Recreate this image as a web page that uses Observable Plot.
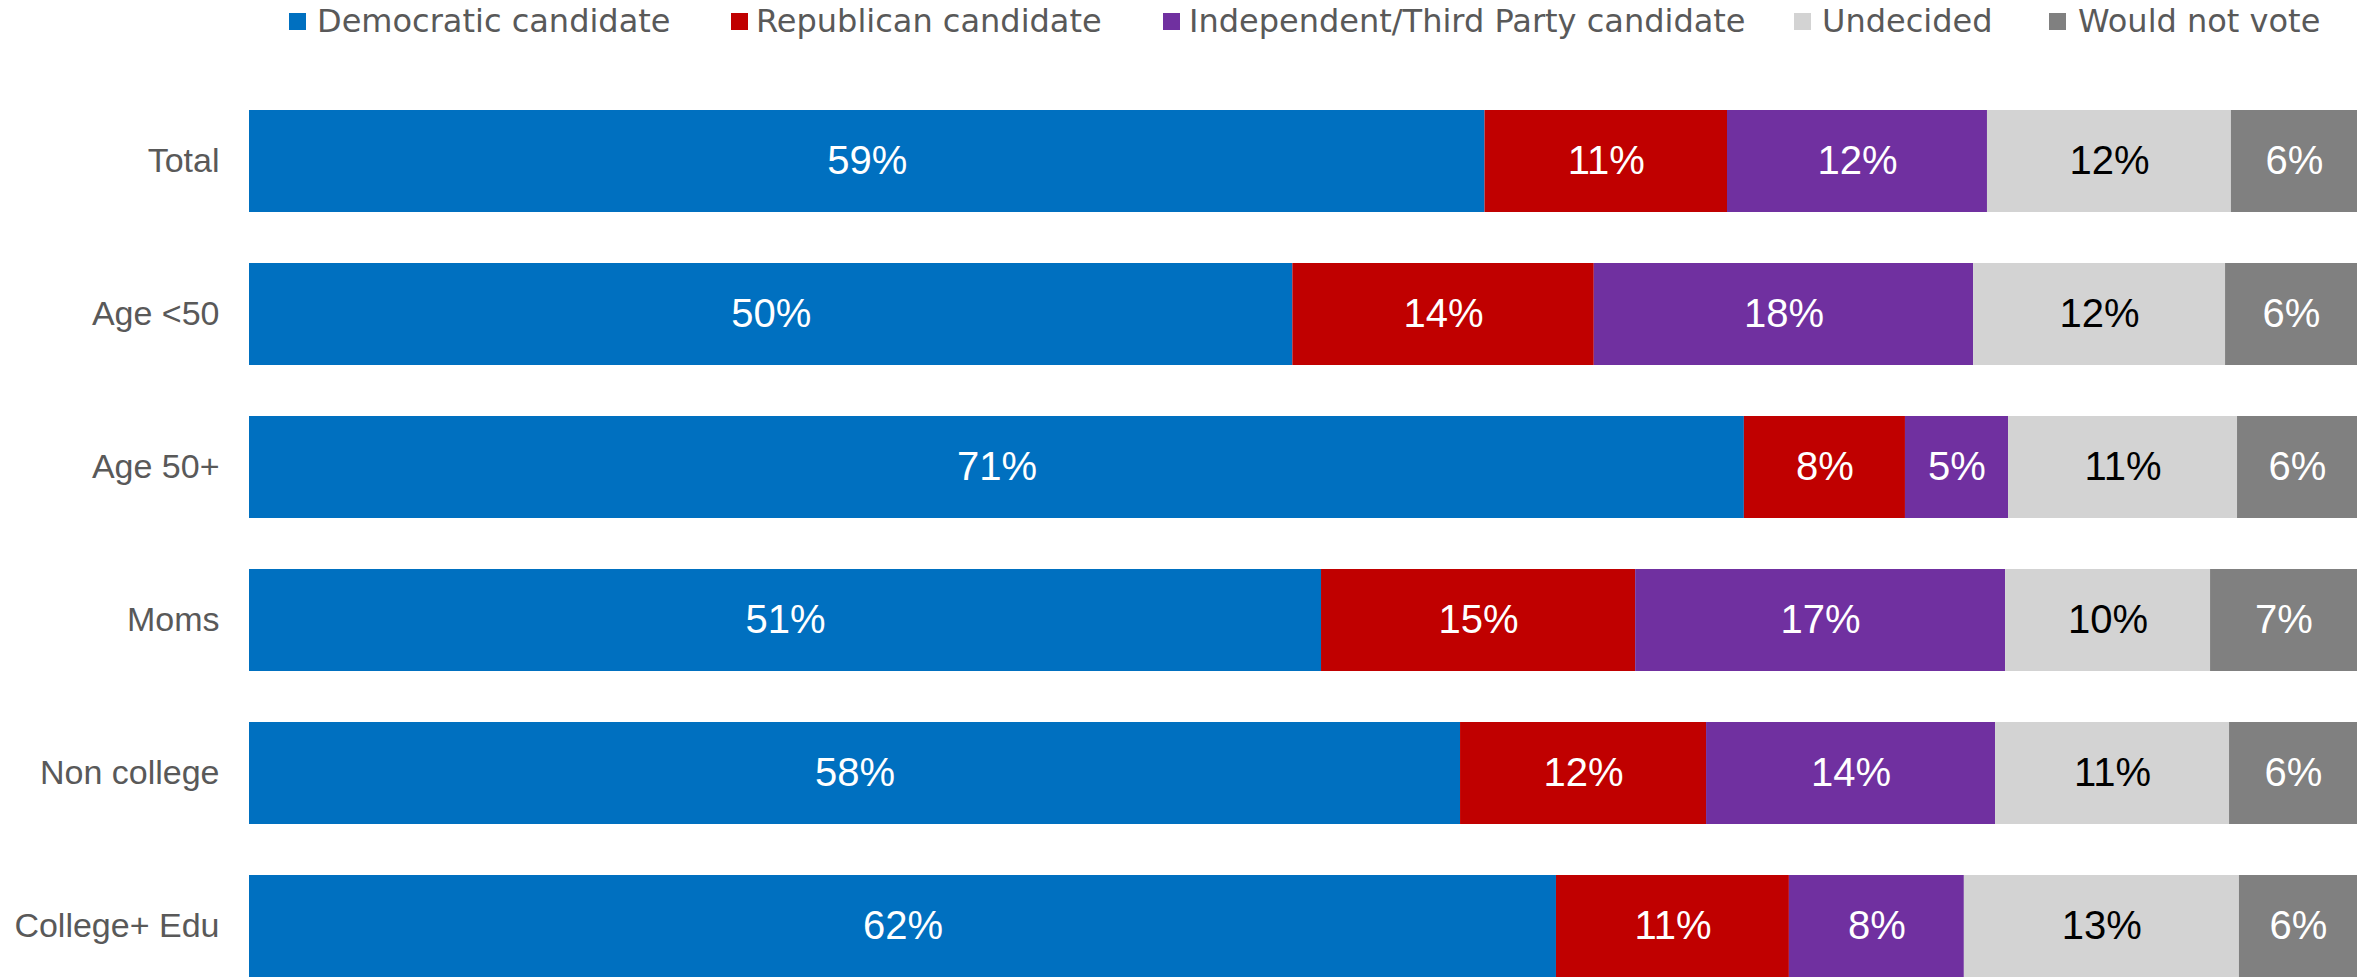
<!DOCTYPE html>
<html>
<head>
<meta charset="utf-8">
<script src="https://cdn.jsdelivr.net/npm/d3@7"></script>
<script src="https://cdn.jsdelivr.net/npm/@observablehq/plot@0.6"></script>
<style>
  body { margin: 0; background: #ffffff; }
  #legend svg, #chart svg { display: block; }
</style>
</head>
<body>
<div id="legend"></div>
<div id="chart"></div>
<script>
// ---- data ----
const groups = ["Total", "Age <50", "Age 50+", "Moms", "Non college", "College+ Edu"];
const series = ["Democratic candidate", "Republican candidate", "Independent/Third Party candidate", "Undecided", "Would not vote"];
const seriesColors = ["#0070C0", "#C00000", "#7030A0", "#D3D3D3", "#808080"];

// shares
const democratic  = [58.6, 49.5, 70.9, 50.85, 57.45, 62.0];
const republican  = [11.5, 14.3, 7.64, 14.9, 11.67, 11.05];
const independent = [12.33, 18.0, 4.89, 17.55, 13.71, 8.3];
const undecided   = [11.57, 11.95, 10.86, 9.72, 11.1, 13.05];
const wouldNot    = [5.98, 6.26, 5.69, 6.97, 6.07, 5.6];

// printed labels
const democraticLabels  = ["59%", "50%", "71%", "51%", "58%", "62%"];
const republicanLabels  = ["11%", "14%", "8%", "15%", "12%", "11%"];
const independentLabels = ["12%", "18%", "5%", "17%", "14%", "8%"];
const undecidedLabels   = ["12%", "12%", "11%", "10%", "11%", "13%"];
const wouldNotLabels    = ["6%", "6%", "6%", "7%", "6%", "6%"];

const valueSets = [democratic, republican, independent, undecided, wouldNot];
const labelSets = [democraticLabels, republicanLabels, independentLabels, undecidedLabels, wouldNotLabels];
const labelColors = ["#ffffff", "#ffffff", "#ffffff", "#000000", "#ffffff"];

const rows = [];
groups.forEach((g, i) => {
  series.forEach((s, j) => {
    rows.push({
      group: g,
      series: s,
      value: valueSets[j][i],
      label: labelSets[j][i],
      color: seriesColors[j],
      textColor: labelColors[j]
    });
  });
});

// ---- legend (above the plot) ----
const W = 2367;
const legendLayout = [
  {sq: 289, tx: 317},
  {sq: 731, tx: 756},
  {sq: 1163, tx: 1189},
  {sq: 1794, tx: 1822},
  {sq: 2049, tx: 2078}
];
const legendSvg = d3.create("svg").attr("width", W).attr("height", 60);
series.forEach((s, j) => {
  legendSvg.append("rect")
    .attr("x", legendLayout[j].sq).attr("y", 13)
    .attr("width", 17).attr("height", 17)
    .attr("fill", seriesColors[j]);
  legendSvg.append("text")
    .attr("x", legendLayout[j].tx).attr("y", 32)
    .attr("font-family", "DejaVu Sans")
    .attr("font-size", 32)
    .attr("fill", "#595959")
    .text(s);
});
document.getElementById("legend").appendChild(legendSvg.node());

// ---- chart ----
const stackOpts = {x: "value", y: "group", z: "series", order: series, offset: "normalize"};

const chart = Plot.plot({
  width: W,
  height: 917,
  marginLeft: 249,
  marginRight: 10,
  marginTop: 49,
  marginBottom: 0,
  style: {fontFamily: "Liberation Sans", color: "#595959", background: "#ffffff"},
  x: {domain: [0, 1], axis: null},
  y: {domain: groups, paddingInner: 0.334, paddingOuter: 0, axis: null},
  color: {type: "identity"},
  marks: [
    Plot.barX(rows, Plot.stackX({...stackOpts, fill: "color"})),
    Plot.text(rows, Plot.stackX({...stackOpts, text: "label", fill: "textColor", fontSize: 40})),
    Plot.axisY({tickSize: 0, tickPadding: 30, fontSize: 34, label: null, fill: "#595959"})
  ]
});
document.getElementById("chart").appendChild(chart);
</script>
</body>
</html>
